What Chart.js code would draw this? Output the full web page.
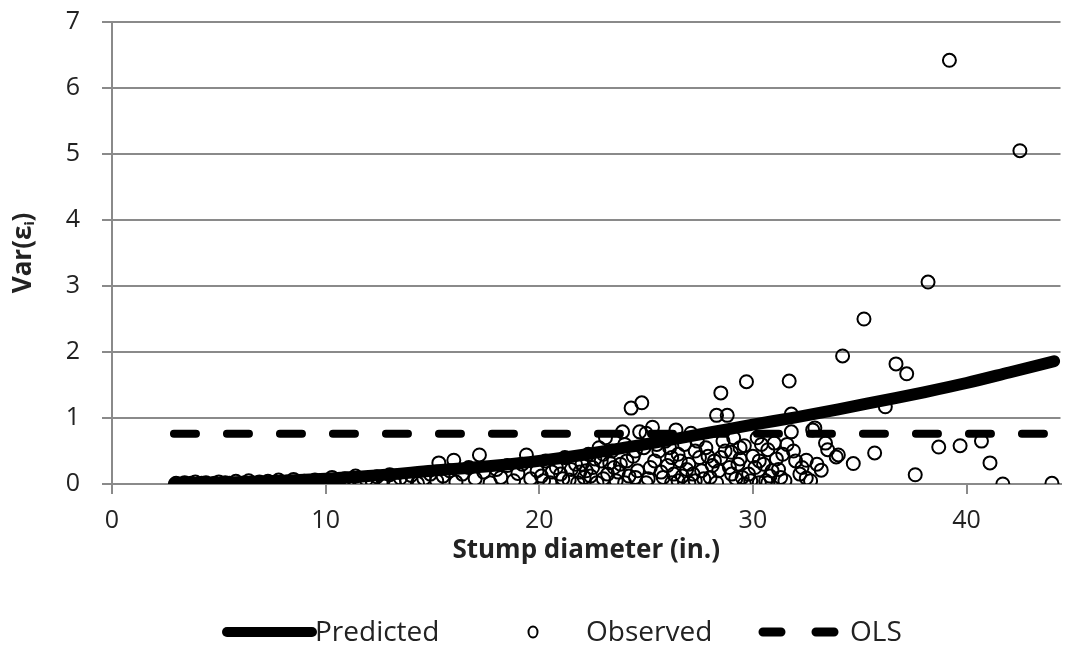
<!DOCTYPE html>
<html>
<head>
<meta charset="utf-8">
<script src="https://cdn.jsdelivr.net/npm/chart.js@4.4.1/dist/chart.umd.min.js"></script>
<style>
  html, body { margin: 0; padding: 0; background: #fff; }
  #wrap { width: 1069px; height: 647px; }
</style>
</head>
<body>
<div id="wrap"><canvas id="c" width="1069" height="647"></canvas></div>
<script>
// ---- Data ----
const xTickValues = [0, 10, 20, 30, 40];
const yTickValues = [0, 1, 2, 3, 4, 5, 6, 7];

// Predicted variance curve (stump diameter, Var)
const predictedX = [2.9, 5, 8, 10, 12, 15, 18, 20, 22, 24, 26, 28, 30, 32, 34, 36, 38, 40, 42, 44.1];
const predictedY = [0.01, 0.02, 0.05, 0.08, 0.12, 0.2, 0.28, 0.35, 0.44, 0.55, 0.66, 0.78, 0.9, 1.01, 1.13, 1.26, 1.39, 1.53, 1.69, 1.86];

// OLS constant variance
const olsX = [2.9, 44.1];
const olsY = [0.76, 0.76];

// Observed squared residuals
const observedX = [
  3.0,3.2,3.4,3.5,3.7,3.9,4.0,4.2,4.4,4.6,4.8,5.0,5.1,5.3,5.5,5.8,6.0,6.2,6.4,6.6,6.9,7.1,7.3,7.5,7.8,8.0,8.2,8.5,8.7,9.0,9.2,9.5,9.8,
  10.1,10.3,10.6,10.9,11.1,11.4,11.6,11.9,12.2,12.4,12.7,13.0,13.2,13.5,13.8,14.0,14.3,14.6,14.9,
  15.2,15.3,15.5,15.8,16.0,16.1,16.4,16.7,17.0,17.2,17.4,17.7,18.0,18.2,18.5,18.8,19.0,19.2,19.4,19.6,19.9,20.1,20.3,20.5,20.8,21.0,21.2,21.4,21.7,21.9,
  22.1,22.3,22.5,22.7,22.9,23.1,23.2,23.4,23.6,23.8,23.9,24.0,24.2,24.3,24.4,24.6,24.7,24.8,24.9,25.0,25.1,25.3,25.4,25.6,25.7,25.9,26.0,26.2,26.4,26.5,26.7,26.8,27.0,27.1,27.3,27.5,27.6,27.8,28.0,28.2,28.3,28.5,28.6,28.8,28.9,29.0,29.2,29.4,29.6,29.7,29.8,30.0,30.2,30.3,30.5,30.7,30.8,31.0,31.2,31.4,31.5,31.7,31.8,31.8,32.0,32.2,32.5,32.5,32.8,32.9,33.2,33.4,33.5,
  26.1,26.6,27.2,27.9,28.4,28.7,29.1,29.5,30.1,30.6,31.1,31.6,25.5,24.5,23.5,22.8,30.4,29.3,27.4,26.3,
  20.2,20.6,21.1,21.5,21.8,22.0,22.4,22.6,23.0,23.3,23.7,24.1,24.5,25.2,25.8,26.2,26.9,27.3,27.7,28.1,28.5,29.0,29.4,29.9,30.3,30.9,31.3,31.9,32.3,32.7,33.0,26.5,27.0,28.3,29.6,30.7,25.0,24.0,23.0,22.2,
  33.9,34.0,34.2,34.7,35.2,35.7,36.2,36.7,37.2,37.6,38.2,38.7,39.2,39.7,40.7,41.1,41.7,42.5,44.0
];
const observedY = [
  0.01,0.0,0.02,0.0,0.01,0.03,0.0,0.01,0.02,0.0,0.01,0.03,0.0,0.02,0.01,0.04,0.0,0.02,0.05,0.01,0.03,0.0,0.04,0.02,0.06,0.01,0.03,0.07,0.0,0.04,0.02,0.06,0.01,
  0.05,0.1,0.02,0.08,0.04,0.12,0.0,0.07,0.03,0.11,0.06,0.14,0.02,0.09,0.05,0.13,0.01,0.08,0.15,
  0.05,0.32,0.12,0.2,0.36,0.03,0.15,0.25,0.08,0.44,0.18,0.02,0.22,0.1,0.28,0.05,0.16,0.3,0.44,0.08,0.2,0.12,0.35,0.02,0.25,0.15,0.4,0.06,0.3,0.18,
  0.1,0.45,0.25,0.02,0.35,0.7,0.15,0.5,0.05,0.3,0.79,0.6,0.12,1.15,0.42,0.2,0.79,1.23,0.55,0.77,0.08,0.86,0.35,0.5,0.18,0.65,0.28,0.02,0.82,0.45,0.12,0.6,0.3,0.77,0.05,0.4,0.2,0.55,0.1,0.35,1.04,1.38,0.65,1.04,0.25,0.48,0.08,0.38,0.58,1.55,0.15,0.42,0.7,0.02,0.3,0.52,0.12,0.62,0.22,0.45,0.05,1.56,1.06,0.79,0.35,0.15,0.36,0.09,0.82,0.85,0.21,0.62,0.52,
  0.55,0.35,0.15,0.42,0.2,0.5,0.7,0.1,0.25,0.05,0.38,0.6,0.6,0.1,0.25,0.55,0.6,0.3,0.65,0.15,
  0.05,0.18,0.08,0.22,0.02,0.3,0.12,0.38,0.08,0.32,0.18,0.35,0.5,0.25,0.1,0.4,0.22,0.5,0.08,0.28,0.4,0.15,0.55,0.05,0.35,0.2,0.1,0.5,0.25,0.05,0.3,0.05,0.02,0.02,0.0,0.02,0.02,0.02,0.45,0.2,
  0.41,0.44,1.94,0.31,2.5,0.47,1.17,1.82,1.67,0.14,3.06,0.56,6.42,0.58,0.65,0.32,0.0,5.05,0.01
];

const toPoints = (xs, ys) => xs.map((x, i) => ({ x: x, y: ys[i] }));

const FONT = "'Open Sans', Lato, sans-serif";
const GRID = '#8a8a8a';
const TEXT = '#222';

// Legend drawn at the bottom like the reference
const legendPlugin = {
  id: 'bottomLegend',
  afterDraw(chart) {
    const ctx = chart.ctx;
    const y = 632;
    ctx.save();
    ctx.fillStyle = TEXT;
    ctx.strokeStyle = '#000';
    ctx.font = "28px " + FONT;
    ctx.textBaseline = 'middle';
    ctx.textAlign = 'left';
    // Predicted
    ctx.lineWidth = 10; ctx.lineCap = 'round';
    ctx.beginPath(); ctx.moveTo(227, y); ctx.lineTo(312, y); ctx.stroke();
    ctx.fillText('Predicted', 315, y + 1);
    // Observed
    ctx.lineWidth = 2;
    ctx.beginPath(); ctx.ellipse(533, y, 4.5, 5.5, 0, 0, Math.PI * 2); ctx.stroke();
    ctx.fillText('Observed', 586, y + 1);
    // OLS
    ctx.lineWidth = 9; ctx.lineCap = 'round';
    ctx.setLineDash([18, 35]);
    ctx.beginPath(); ctx.moveTo(763, y); ctx.lineTo(840, y); ctx.stroke();
    ctx.setLineDash([]);
    ctx.fillText('OLS', 850, y + 1);
    ctx.restore();
  }
};

new Chart(document.getElementById('c'), {
  data: {
    datasets: [
      {
        type: 'line',
        label: 'Predicted',
        data: toPoints(predictedX, predictedY),
        borderColor: '#000',
        borderWidth: 12,
        borderCapStyle: 'round',
        borderJoinStyle: 'round',
        pointRadius: 0,
        cubicInterpolationMode: 'monotone',
        fill: false,
        order: 1
      },
      {
        type: 'scatter',
        label: 'Observed',
        data: toPoints(observedX, observedY),
        borderColor: '#000',
        backgroundColor: 'rgba(0,0,0,0)',
        borderWidth: 2,
        pointRadius: 6.5,
        pointStyle: 'circle',
        order: 2
      },
      {
        type: 'line',
        label: 'OLS',
        data: toPoints(olsX, olsY),
        borderColor: '#000',
        borderWidth: 8,
        borderDash: [22, 31],
        borderCapStyle: 'round',
        pointRadius: 0,
        fill: false,
        order: 0
      }
    ]
  },
  options: {
    responsive: false,
    devicePixelRatio: 1,
    animation: false,
    layout: { padding: { top: 22, right: 0, left: 0, bottom: 50 } },
    plugins: {
      legend: { display: false },
      tooltip: { enabled: false }
    },
    scales: {
      x: {
        type: 'linear',
        position: 'bottom',
        min: 0,
        max: 44.4,
        afterBuildTicks(scale) {
          scale.ticks = xTickValues.map(v => ({ value: v }));
        },
        afterFit(scale) { scale.height = 113; },
        ticks: {
          font: { family: FONT, size: 25 },
          color: TEXT,
          padding: 12,
          maxRotation: 0,
          callback: v => String(v)
        },
        grid: {
          drawOnChartArea: false,
          drawTicks: true,
          tickLength: 10,
          color: GRID,
          lineWidth: 2
        },
        border: { color: GRID, width: 2 },
        title: {
          display: true,
          text: 'Stump diameter (in.)',
          font: { family: FONT, size: 26, weight: 'bold' },
          color: TEXT,
          padding: { top: 0, bottom: 31 }
        }
      },
      y: {
        type: 'linear',
        min: 0,
        max: 7,
        afterBuildTicks(scale) {
          scale.ticks = yTickValues.map(v => ({ value: v }));
        },
        afterFit(scale) {
          scale.width = 112;
          scale.paddingTop = 0;
          scale.paddingBottom = 0;
        },
        ticks: {
          font: { family: FONT, size: 25 },
          color: TEXT,
          padding: 22,
          callback: v => String(v)
        },
        grid: {
          color: GRID,
          lineWidth: 2,
          drawTicks: true,
          tickLength: 10
        },
        border: { color: GRID, width: 2 },
        title: {
          display: true,
          text: 'Var(\u03b5\u1d62)',
          font: { family: FONT, size: 26, weight: 'bold' },
          color: TEXT,
          padding: { top: 8, bottom: 0 }
        }
      }
    }
  },
  plugins: [legendPlugin]
});
</script>
</body>
</html>
